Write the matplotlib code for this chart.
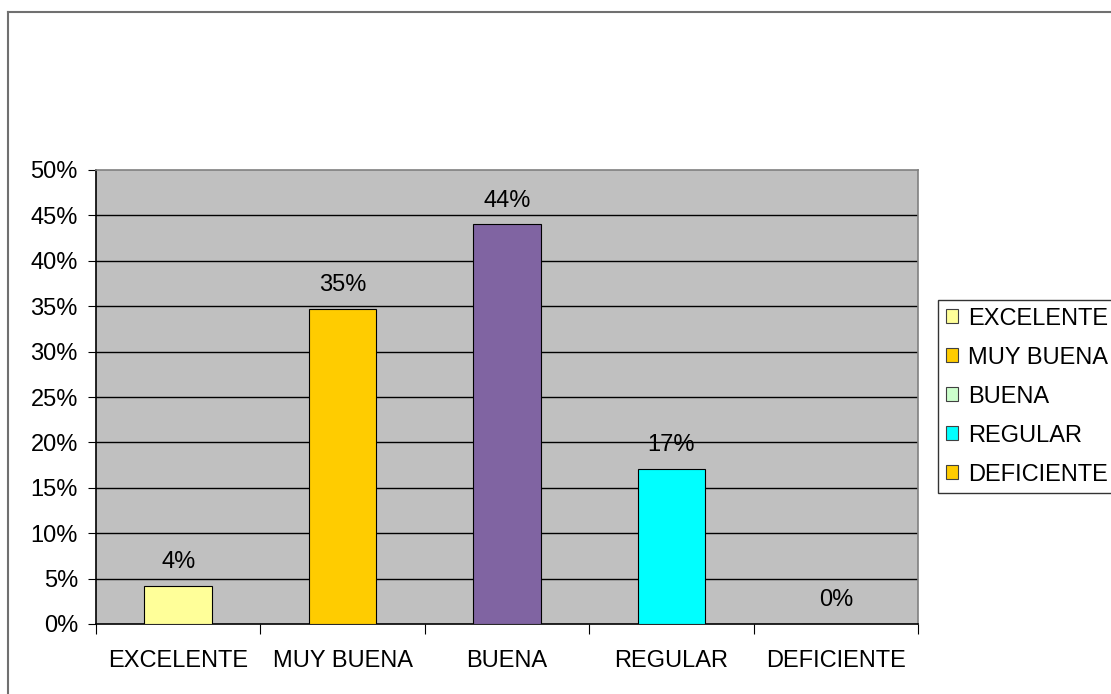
import matplotlib.pyplot as plt
from matplotlib.patches import Patch
from matplotlib.lines import Line2D

plt.rcParams['font.family'] = ['Liberation Sans', 'DejaVu Sans']

# survey results, share of answers per rating
categories = ['EXCELENTE', 'MUY BUENA', 'BUENA', 'REGULAR', 'DEFICIENTE']
values = [4.2, 34.7, 44.0, 17.1, 0.0]
bar_colors = ['#FFFF99', '#FFCC00', '#8064A2', '#00FFFF', '#FFCC00']
legend_colors = ['#FFFF99', '#FFCC00', '#CCFFCC', '#00FFFF', '#FFCC00']
yticks = [0, 5, 10, 15, 20, 25, 30, 35, 40, 45, 50]

FS = 17
W, H = 1111, 694
fig = plt.figure(figsize=(W / 100, H / 100), dpi=100)
ax = fig.add_axes([96 / W, 1 - 624 / H, (918 - 96) / W, (624 - 170) / H])
ax.set_facecolor('#C0C0C0')

x = list(range(len(categories)))
ax.bar(x, values, width=0.41, color=bar_colors, edgecolor='black', linewidth=0.8, zorder=3)
for xi, v in zip(x, values):
    ax.text(xi, v + 2.6, f'{v:.0f}%', ha='center', va='center', fontsize=FS, zorder=4)

ax.set_xlim(-0.5, len(categories) - 0.5)
ax.set_ylim(0, 50)
ax.set_yticks(yticks)
ax.set_yticklabels([f'{t}%' for t in yticks], fontsize=FS)
for t in yticks[1:-1]:
    ax.axhline(t, color='black', linewidth=1, zorder=1)

# category labels sit between the boundary ticks
ax.set_xticks([i - 0.5 for i in range(len(categories) + 1)])
ax.set_xticklabels([])
ax.set_xticks(x, minor=True)
ax.set_xticklabels(categories, minor=True, fontsize=FS)
ax.tick_params(axis='x', which='minor', length=0, pad=19)
ax.tick_params(axis='x', which='major', length=7, direction='out', color='black')
ax.tick_params(axis='y', length=6, direction='out', pad=7)

ax.spines['left'].set_color('black')
ax.spines['bottom'].set_color('black')
ax.spines['top'].set_color('#808080')
ax.spines['right'].set_color('#808080')
for s in ax.spines.values():
    s.set_linewidth(1.2)

handles = [Patch(facecolor=c, edgecolor='#404040', linewidth=0.8) for c in legend_colors]
leg = fig.legend(handles, categories, loc='upper left',
                 bbox_to_anchor=(938 / W, 1 - 300 / H), fontsize=FS,
                 handlelength=0.52, handleheight=0.52, handletextpad=0.45,
                 labelspacing=0.72, borderpad=0.32, borderaxespad=0,
                 fancybox=False, frameon=True)
leg.get_frame().set_edgecolor('black')
leg.get_frame().set_linewidth(1.0)

# outer chart border (top and left edges)
fig.add_artist(Line2D([8 / W, 1], [1 - 12 / H, 1 - 12 / H], color='#707070', linewidth=1.5))
fig.add_artist(Line2D([8 / W, 8 / W], [0, 1 - 12 / H], color='#707070', linewidth=1.5))

fig.savefig('out.png', dpi=100, facecolor='white')
